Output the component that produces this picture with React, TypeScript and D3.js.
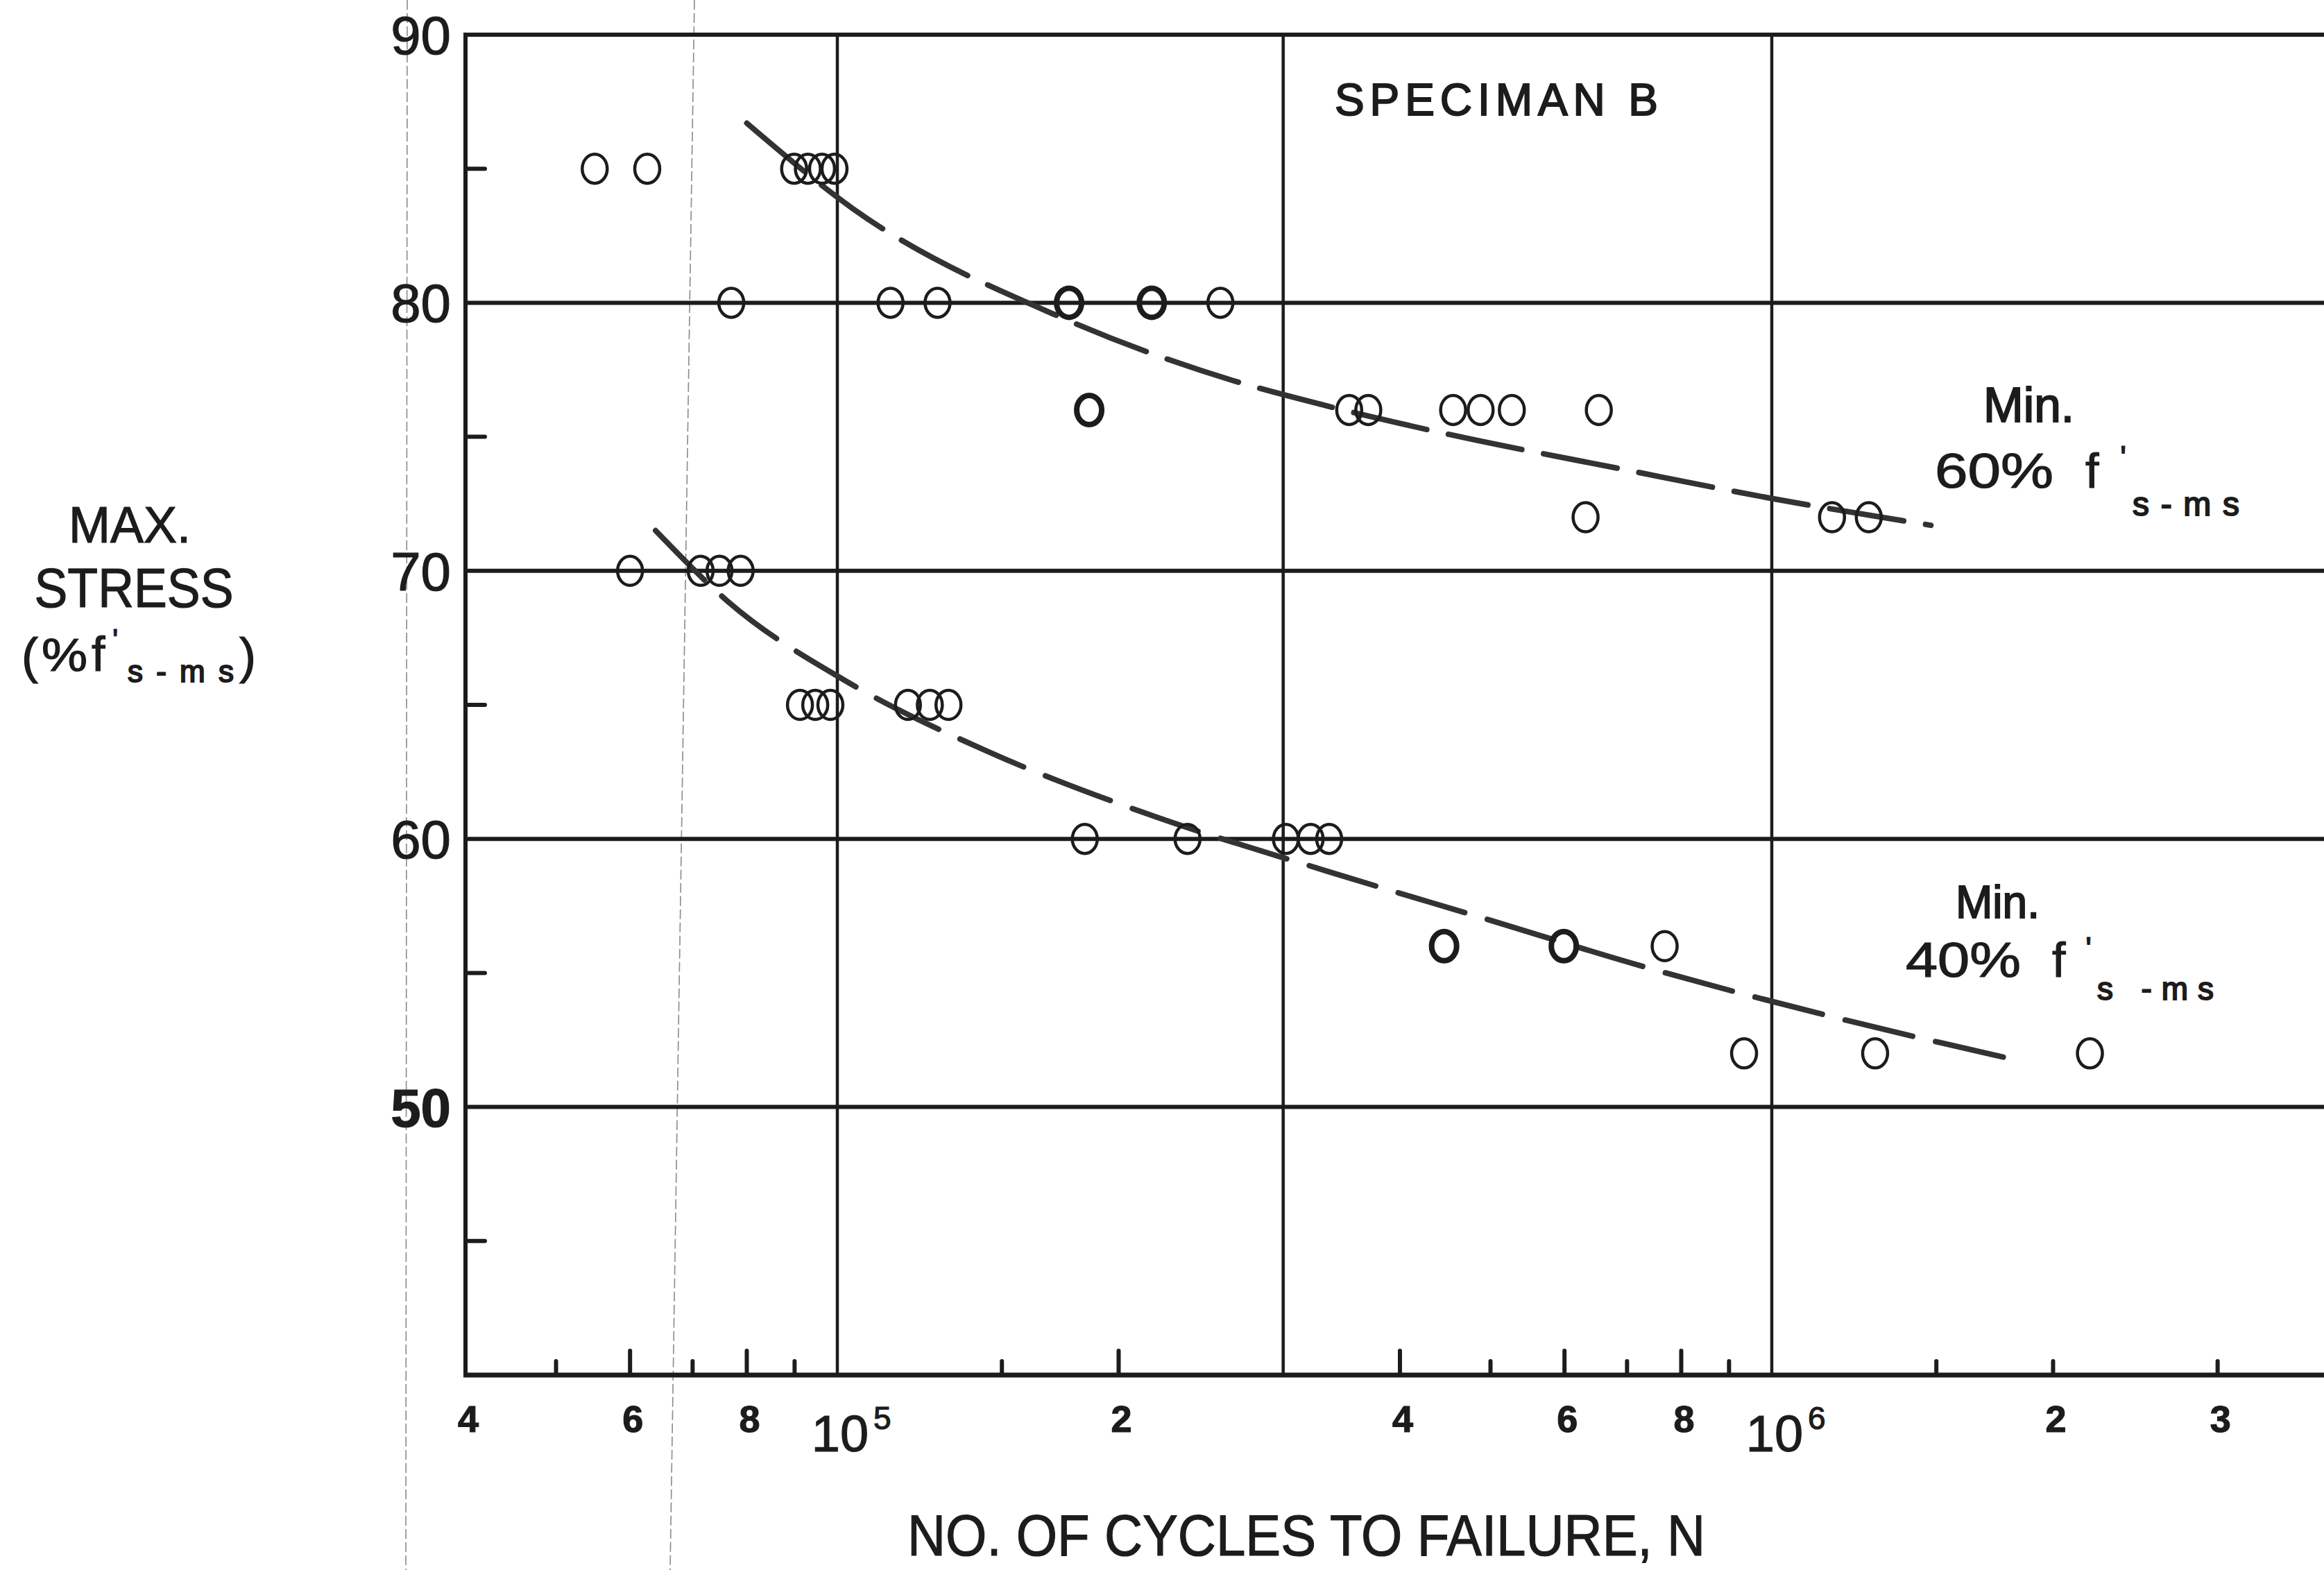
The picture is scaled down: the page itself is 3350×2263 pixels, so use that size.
import React, { useEffect } from 'react';
import * as d3 from 'd3';

// ---------- data ----------
// Min. 60% f's-ms : [cycles N, max stress %]
const min60Points: [number, number][] = [
  [5.5e4, 85], [6.26e4, 85], [8.99e4, 85], [9.3e4, 85], [9.63e4, 85], [9.93e4, 85],
  [7.7e4, 80], [1.14e5, 80], [1.28e5, 80], [1.77e5, 80], [2.17e5, 80], [2.57e5, 80],
  [1.86e5, 76], [3.53e5, 76], [3.7e5, 76], [4.56e5, 76], [4.88e5, 76], [5.27e5, 76], [6.53e5, 76],
  [6.32e5, 72], [1.16e6, 72], [1.27e6, 72],
];
// Min. 40% f's-ms
const min40Points: [number, number][] = [
  [6.0e4, 70], [7.14e4, 70], [7.48e4, 70], [7.88e4, 70],
  [9.12e4, 65], [9.47e4, 65], [9.83e4, 65], [1.19e5, 65], [1.256e5, 65], [1.315e5, 65],
  [1.84e5, 60], [2.37e5, 60], [3.02e5, 60], [3.21e5, 60], [3.36e5, 60],
  [4.46e5, 56], [5.99e5, 56], [7.68e5, 56],
  [9.34e5, 52], [1.29e6, 52], [2.19e6, 52],
];
// hand-drawn fitted curves
const min60Curve: [number, number][] = [
  [8.0e4, 86.7], [1.04e5, 83.5], [1.75e5, 79.4], [2.65e5, 77.1], [3.3e5, 76.2],
  [4.5e5, 75.1], [6.9e5, 73.8], [1.0e6, 72.7], [1.48e6, 71.7],
];
const min40Curve: [number, number][] = [
  [6.39e4, 71.5], [7.67e4, 68.8], [1.02e5, 65.9], [1.44e5, 63.3], [2.12e5, 61.0],
  [3.34e5, 58.8], [4.96e5, 57.0], [7.35e5, 55.2], [1.15e6, 53.4], [1.8e6, 51.8],
];
// points drawn with a heavier ring
const heavyRings: [number, number][] = [[1.77e5, 80], [2.17e5, 80], [1.86e5, 76], [4.46e5, 56], [5.99e5, 56]];

const yGridValues = [80, 70, 60, 50];
const yLabelValues = [90, 80, 70, 60, 50];
const yMinorTicks = [85, 75, 65, 55, 45];
const xGridValues = [1e5, 3e5, 1e6];
const xTickValues = [5e4, 6e4, 7e4, 8e4, 9e4, 1.5e5, 2e5, 4e5, 5e5, 6e5, 7e5, 8e5, 9e5, 1.5e6, 2e6, 3e6];
const xTallTicks = [6e4, 8e4, 2e5, 4e5, 6e5, 8e5];
const xDigitLabels: [number, string][] = [
  [4e4, '4'], [6e4, '6'], [8e4, '8'], [2e5, '2'], [4e5, '4'], [6e5, '6'], [8e5, '8'], [2e6, '2'], [3e6, '3'],
];
const xPowerLabels: [number, string][] = [[1e5, '5'], [1e6, '6']];

const W = 3350;
const H = 2263;
const FONT = "'Liberation Sans', Arial, 'DejaVu Sans', sans-serif";
const INK = '#1c1c1c';

export default function App() {
  useEffect(() => {
    document.body.style.margin = '0';
    document.body.style.overflow = 'hidden';
  }, []);

  const x = d3.scaleLog().domain([4e4, 1e6]).range([671, 2554]);
  const y = d3.scaleLinear().domain([40, 90]).range([1982, 50]);
  const left = x(4e4);
  const bottom = y(40);
  const top = y(90);

  const line = d3
    .line<[number, number]>()
    .x((d) => x(d[0]))
    .y((d) => y(d[1]))
    .curve(d3.curveMonotoneX);

  const isHeavy = (p: [number, number]) => heavyRings.some((h) => h[0] === p[0] && h[1] === p[1]);

  const ring = (p: [number, number], i: number, key: string) => (
    <ellipse
      key={key + i}
      cx={x(p[0])}
      cy={y(p[1])}
      rx={18}
      ry={21}
      fill="none"
      stroke={INK}
      strokeWidth={isHeavy(p) ? 8 : 4.5}
    />
  );

  const txt = { fontFamily: FONT, fill: INK, stroke: INK, strokeWidth: 1.2 } as const;

  return (
    <svg
      width={W}
      height={H}
      viewBox={`0 0 ${W} ${H}`}
      style={{ position: 'absolute', left: 0, top: 0, background: '#fff' }}
    >
      <rect x={0} y={0} width={W} height={H} fill="#fff" />

      {/* faint scan fold lines */}
      <line x1={587} y1={0} x2={585} y2={H} stroke="#8a8a8a" strokeWidth={1.6} strokeDasharray="14 5" />
      <line x1={1001} y1={0} x2={966} y2={H} stroke="#8a8a8a" strokeWidth={1.6} strokeDasharray="14 5" />

      {/* horizontal grid */}
      {yGridValues.map((v) => (
        <line key={'hg' + v} x1={left} x2={W} y1={y(v)} y2={y(v)} stroke={INK} strokeWidth={6} />
      ))}
      {/* vertical grid */}
      {xGridValues.map((v) => (
        <line key={'vg' + v} x1={x(v)} x2={x(v)} y1={top} y2={bottom} stroke={INK} strokeWidth={4.5} />
      ))}
      {/* frame */}
      <line x1={left} x2={W} y1={top} y2={top} stroke={INK} strokeWidth={6} />
      <line x1={left} x2={left} y1={top - 3} y2={bottom + 3} stroke={INK} strokeWidth={6} />
      <line x1={left - 3} x2={W} y1={bottom} y2={bottom} stroke={INK} strokeWidth={7} />

      {/* y minor ticks */}
      {yMinorTicks.map((v) => (
        <line key={'ym' + v} x1={left} x2={left + 28} y1={y(v)} y2={y(v)} stroke={INK} strokeWidth={6} strokeLinecap="round" />
      ))}
      {/* x ticks */}
      {xTickValues.map((v) => (
        <line
          key={'xt' + v}
          x1={x(v)}
          x2={x(v)}
          y1={bottom}
          y2={bottom - (xTallTicks.includes(v) ? 35 : 20)}
          stroke={INK}
          strokeWidth={6}
          strokeLinecap="round"
        />
      ))}

      {/* y labels */}
      {yLabelValues.map((v) => (
        <text
          key={'yl' + v}
          x={650}
          y={y(v) + 28}
          textAnchor="end"
          fontSize={78}
          fontWeight={v === 50 ? 'bold' : 'normal'}
          {...txt}
        >
          {v}
        </text>
      ))}

      {/* x labels */}
      {xDigitLabels.map(([v, s]) => (
        <text key={'xl' + v} x={x(v) + 4} y={2064} textAnchor="middle" fontSize={54} fontWeight="bold" {...txt}>
          {s}
        </text>
      ))}
      {xPowerLabels.map(([v, s]) => (
        <g key={'xp' + v}>
          <text x={x(v) + 4} y={2092} textAnchor="middle" fontSize={74} {...txt}>
            10
          </text>
          <text x={x(v) + 52} y={2060} textAnchor="start" fontSize={46} {...txt}>
            {s}
          </text>
        </g>
      ))}

      {/* fitted curves */}
      <path d={line(min60Curve) || ''} fill="none" stroke="#333" strokeWidth={8} strokeDasharray="108 32" strokeLinecap="round" />
      <path d={line(min40Curve) || ''} fill="none" stroke="#333" strokeWidth={8} strokeDasharray="100 34" strokeLinecap="round" />

      {/* data rings */}
      {min60Points.map((p, i) => ring(p, i, 'u'))}
      {min40Points.map((p, i) => ring(p, i, 'l'))}

      {/* title */}
      <text x={1924} y={166} fontSize={64} textLength={466} lengthAdjust="spacing" {...txt} strokeWidth={2}>
        SPECIMAN B
      </text>

      {/* series annotations */}
      <text x={2859} y={608} fontSize={70} textLength={131} lengthAdjust="spacingAndGlyphs" {...txt} strokeWidth={2}>
        Min.
      </text>
      <text x={2789} y={703} fontSize={70} textLength={171} lengthAdjust="spacingAndGlyphs" {...txt}>
        60%
      </text>
      <text x={3006} y={703} fontSize={70} {...txt}>f</text>
      <text x={3056} y={676} fontSize={48} {...txt}>'</text>
      <text x={3074} y={743} fontSize={48} textLength={154} lengthAdjust="spacing" {...txt} strokeWidth={2}>
        s-ms
      </text>

      <text x={2819} y={1323} fontSize={66} textLength={121} lengthAdjust="spacingAndGlyphs" {...txt} strokeWidth={2}>
        Min.
      </text>
      <text x={2747} y={1408} fontSize={70} textLength={166} lengthAdjust="spacingAndGlyphs" {...txt}>
        40%
      </text>
      <text x={2958} y={1408} fontSize={70} {...txt}>f</text>
      <text x={3006} y={1384} fontSize={48} {...txt}>'</text>
      <text x={3023} y={1441} fontSize={46} textLength={168} lengthAdjust="spacing" {...txt} strokeWidth={2}>
        s -ms
      </text>

      {/* y axis title */}
      <text x={187} y={782} textAnchor="middle" fontSize={75} textLength={176} lengthAdjust="spacingAndGlyphs" {...txt}>
        MAX.
      </text>
      <text x={193} y={875} textAnchor="middle" fontSize={80} textLength={287} lengthAdjust="spacingAndGlyphs" {...txt}>
        STRESS
      </text>
      <text x={31} y={970} fontSize={72} {...txt}>(</text>
      <text x={60} y={967} fontSize={66} textLength={66} lengthAdjust="spacingAndGlyphs" {...txt}>%</text>
      <text x={132} y={967} fontSize={70} {...txt}>f</text>
      <text x={162} y={938} fontSize={44} {...txt}>'</text>
      <text x={184} y={983} fontSize={44} textLength={153} lengthAdjust="spacing" {...txt} strokeWidth={2}>
        s-ms
      </text>
      <text x={345} y={970} fontSize={72} {...txt}>)</text>

      {/* x axis title */}
      <text x={1308} y={2242} fontSize={84} textLength={1150} lengthAdjust="spacingAndGlyphs" {...txt}>
        NO. OF CYCLES TO FAILURE, N
      </text>
    </svg>
  );
}
